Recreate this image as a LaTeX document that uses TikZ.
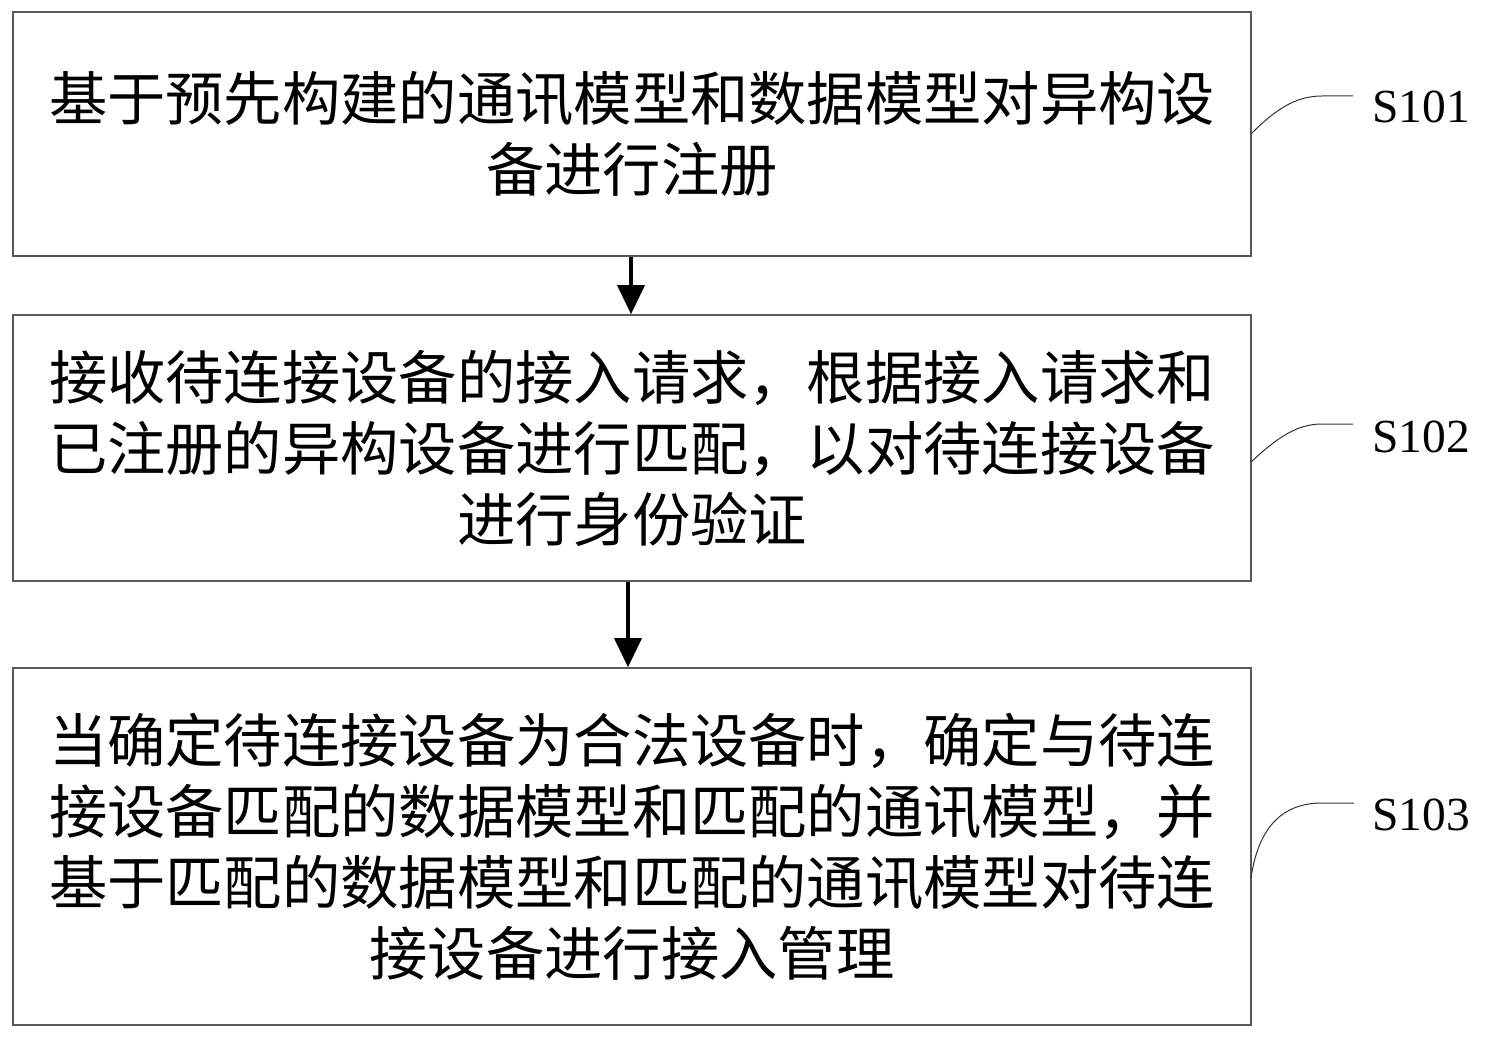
\documentclass[tikz,border=0pt]{standalone}
\usepackage{fontspec}
\setmainfont{Liberation Serif}
\newfontfamily\cjk{Noto Sans CJK SC}
\usetikzlibrary{arrows.meta}
\tikzset{
  stepbox/.style={draw=black!65, line width=1.6pt, minimum width=1238pt, inner sep=0pt,
    align=center, font=\cjk\fontsize{58.3}{71}\selectfont},
  flow/.style={line width=3.6pt, -{Triangle[length=29pt,width=27pt]}},
  lbl/.style={font=\fontsize{47.5}{50}\selectfont, inner sep=0pt, anchor=west},
  lead/.style={line width=1pt, black!80}
}
\begin{document}
\begin{tikzpicture}[x=1pt,y=-1pt]
\useasboundingbox (0,0) rectangle (1485,1040);
\node[stepbox, minimum height=244pt] (b1) at (632,134)
  {基于预先构建的通讯模型和数据模型对异构设\\备进行注册};
\node[stepbox, minimum height=266pt] (b2) at (632,448)
  {接收待连接设备的接入请求，根据接入请求和\\已注册的异构设备进行匹配，以对待连接设备\\进行身份验证};
\node[stepbox, minimum height=357pt] (b3) at (632,846.5)
  {当确定待连接设备为合法设备时，确定与待连\\接设备匹配的数据模型和匹配的通讯模型，并\\基于匹配的数据模型和匹配的通讯模型对待连\\接设备进行接入管理};
\draw[flow] ([xshift=-1pt]b1.south) -- ([xshift=-1pt]b2.north);
\draw[flow] ([xshift=-4pt]b2.south) -- ([xshift=-4pt]b3.north);
\node[lbl] (s1) at (1372,107) {S101};
\node[lbl] (s2) at (1372,437) {S102};
\node[lbl] (s3) at (1372,815) {S103};
\coordinate (a1) at (1251,134);
\coordinate (a2) at (1251,462);
\coordinate (a3) at (1251,878);
\draw[lead] (a1) .. controls (1275,110) and (1295,96) .. (1322,96) -- (1353,96);
\draw[lead] (a2) .. controls (1275,440) and (1295,424) .. (1322,424) -- (1353,424);
\draw[lead] (a3) .. controls (1258,830) and (1280,803) .. (1322,803) -- (1354,803);
\end{tikzpicture}
\end{document}
